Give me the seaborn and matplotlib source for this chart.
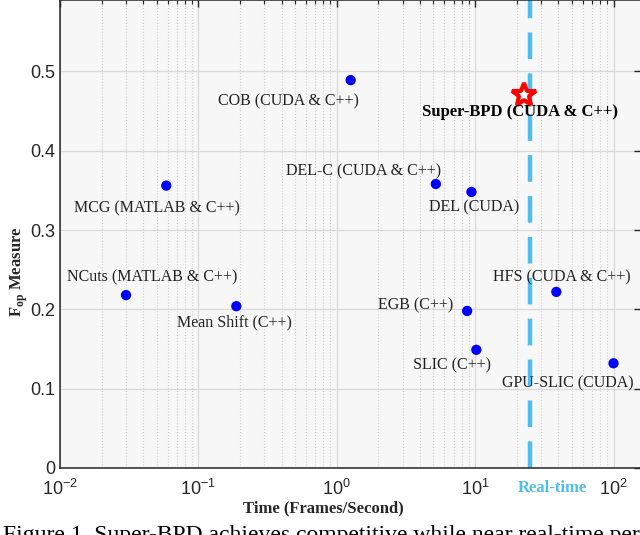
import matplotlib
matplotlib.use("Agg")
import matplotlib.pyplot as plt
import seaborn as sns
import pandas as pd
from matplotlib.ticker import LogLocator, NullFormatter, FixedLocator
from matplotlib.transforms import blended_transform_factory

# data
methods = ["NCuts (MATLAB & C++)", "MCG (MATLAB & C++)", "Mean Shift (C++)",
           "COB (CUDA & C++)", "DEL-C (CUDA & C++)", "EGB (C++)", "DEL (CUDA)",
           "SLIC (C++)", "HFS (CUDA & C++)", "GPU-SLIC (CUDA)"]
fps = [0.030, 0.0586, 0.188, 1.26, 5.2, 8.75, 9.4, 10.2, 38.6, 100]
fop = [0.218, 0.356, 0.204, 0.489, 0.358, 0.198, 0.348, 0.149, 0.222, 0.132]

ours_name = "Super-BPD (CUDA & C++)"
ours_fps = 22.6
ours_fop = 0.470
realtime_fps = 25

df = pd.DataFrame({"method": methods, "fps": fps, "fop": fop})

# label offsets in pixels (text centre relative to the dot, + = up)
offsets = {
    "NCuts (MATLAB & C++)": (26, 18),
    "MCG (MATLAB & C++)": (-9, -23),
    "Mean Shift (C++)": (-2, -16),
    "COB (CUDA & C++)": (-62, -21),
    "DEL-C (CUDA & C++)": (-72, 13),
    "EGB (C++)": (-51, 6),
    "DEL (CUDA)": (3, -15),
    "SLIC (C++)": (-24, -16),
    "HFS (CUDA & C++)": (6, 15),
    "GPU-SLIC (CUDA)": (-46, -20),
}

sns.set_style("whitegrid")
plt.rcParams["font.family"] = ["Liberation Sans", "DejaVu Sans"]
plt.rcParams["mathtext.fontset"] = "custom"
plt.rcParams["mathtext.rm"] = "Liberation Serif:bold"

fig = plt.figure(figsize=(6.4, 5.35), dpi=100)
ax = fig.add_axes([60 / 640, 67 / 535, 581 / 640, 468 / 535])
ax.set_facecolor("#f7f7f7")

ax.axvline(realtime_fps, color="#4dbeee", lw=3.2, dashes=(6, 3.2), zorder=2)

sns.scatterplot(data=df, x="fps", y="fop", ax=ax, color="#0000ff", s=55,
                edgecolor="none", zorder=3, legend=False)
ax.plot([ours_fps], [ours_fop], marker="*", ms=18, mfc="white", mec="red",
        mew=3, ls="none", zorder=4)

serif = ["Liberation Serif", "DejaVu Serif"]
for _, r in df.iterrows():
    dx, dy = offsets[r["method"]]
    ax.annotate(r["method"], (r["fps"], r["fop"]), xytext=(dx, dy),
                textcoords="offset pixels", ha="center", va="center",
                fontsize=11.5, family=serif, color="#222222", zorder=5)
ax.annotate(ours_name, (ours_fps, ours_fop), xytext=(-4, -17),
            textcoords="offset pixels", ha="center", va="center",
            fontsize=12, family=serif, fontweight="bold", color="black", zorder=5)

ax.set_xscale("log")
ax.set_xlim(0.01, 158)
ax.set_ylim(0, 0.59)
ax.xaxis.set_major_locator(LogLocator(base=10, numticks=10))
ax.xaxis.set_minor_locator(LogLocator(base=10, subs=range(2, 10), numticks=20))
ax.xaxis.set_minor_formatter(NullFormatter())
ax.yaxis.set_major_locator(FixedLocator([0, 0.1, 0.2, 0.3, 0.4, 0.5]))
ax.set_yticklabels(["0", "0.1", "0.2", "0.3", "0.4", "0.5"])

ax.grid(which="major", color="#d9d9d9", lw=0.9, ls="-")
ax.grid(which="minor", axis="x", color="#cfcfcf", lw=0.8, ls=":")
ax.set_axisbelow(True)

ax.tick_params(which="both", direction="in", top=True, right=True,
               labelsize=13, color="#262626")
ax.tick_params(which="major", length=5, width=1)
ax.tick_params(which="minor", length=3, width=0.8)
ax.tick_params(axis="x", pad=8)
for s in ax.spines.values():
    s.set_color("#262626")
    s.set_linewidth(1.1)

ax.set_xlabel("Time (Frames/Second)", fontsize=12, family=serif, fontweight="bold")
ax.xaxis.set_label_coords(0.453, -0.07)
ax.set_ylabel(r"F$_{\mathrm{op}}$ Measure", fontsize=12, family=serif, fontweight="bold")
ax.yaxis.set_label_coords(-0.052, 0.42)

tr = blended_transform_factory(ax.transData, ax.transAxes)
ax.text(36, -0.042, "Real-time", transform=tr, ha="center", va="center",
        fontsize=12, family=serif, fontweight="bold", color="#4dbeee")

# caption of the paper, cut off at the bottom edge as in the source
fig.text(0.005, -0.02, "Figure 1. Super-BPD achieves competitive while near real-time per",
         fontsize=17, family=serif, color="black", va="bottom", ha="left")

fig.savefig("out.png", dpi=100)
